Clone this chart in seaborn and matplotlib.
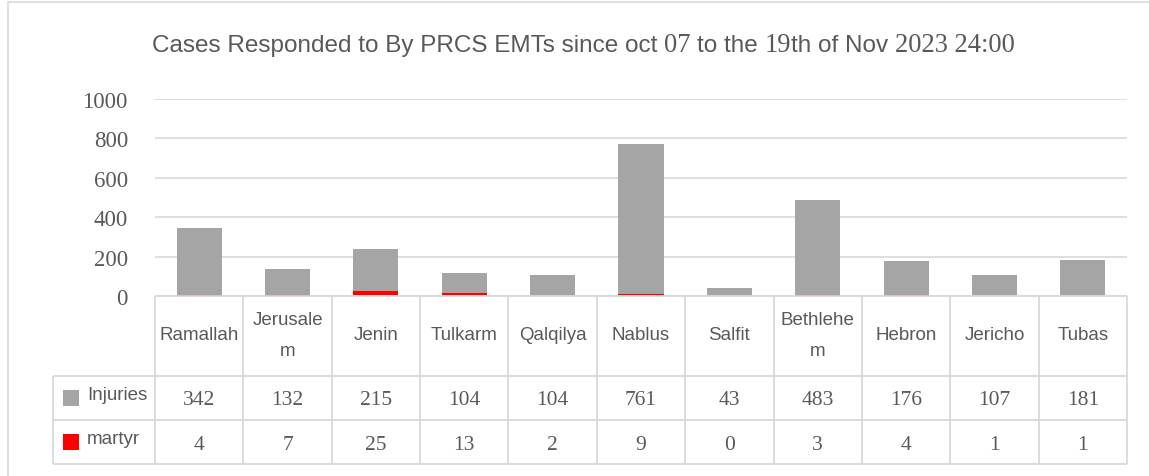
import numpy as np
import pandas as pd
import seaborn as sns
import matplotlib.pyplot as plt
from matplotlib.patches import Rectangle
from matplotlib.transforms import blended_transform_factory

# dados do grafico
cities = ['Ramallah', 'Jerusalem', 'Jenin', 'Tulkarm', 'Qalqilya', 'Nablus',
          'Salfit', 'Bethlehem', 'Hebron', 'Jericho', 'Tubas']
header_labels = ['Ramallah', 'Jerusale\nm', 'Jenin', 'Tulkarm', 'Qalqilya', 'Nablus',
                 'Salfit', 'Bethlehe\nm', 'Hebron', 'Jericho', 'Tubas']
injuries = [342, 132, 215, 104, 104, 761, 43, 483, 176, 107, 181]
martyr = [4, 7, 25, 13, 2, 9, 0, 3, 4, 1, 1]
series_names = ['Injuries', 'martyr']
y_ticks = [0, 200, 400, 600, 800, 1000]

GRAY = '#A5A5A5'
RED = '#FF0000'
GRID = '#D9D9D9'
TXT = '#595959'
SANS = 'Liberation Sans'
SERIF = 'Liberation Serif'

W, H = 1149, 477

df = pd.DataFrame({'city': cities, 'injuries': injuries, 'martyr': martyr})
df['total'] = df['injuries'] + df['martyr']

sns.set_style('white')
fig = plt.figure(figsize=(W / 100, H / 100), dpi=100)
ax = fig.add_axes([155 / W, 1 - 297 / H, 972 / W, 197 / H])


def fy(p):
    return 1 - p / H


# barras empilhadas: total em cinza, martyr em vermelho por cima
sns.barplot(data=df, x='city', y='total', color=GRAY, saturation=1, width=0.51,
            linewidth=0, ax=ax)
sns.barplot(data=df, x='city', y='martyr', color=RED, saturation=1, width=0.51,
            linewidth=0, ax=ax)

ax.set_xlim(-0.5, 10.5)
ax.set_ylim(0, 1000)
ax.set_xticks([])
ax.set_yticks(y_ticks, labels=[str(v) for v in y_ticks], fontfamily=SERIF)
ax.tick_params(axis='y', length=0, pad=19.5, labelsize=16.5, labelcolor=TXT)
ax.set_xlabel('')
ax.set_ylabel('')
ax.yaxis.grid(True, color=GRID, lw=1.2)
ax.set_axisbelow(True)
for s in ax.spines.values():
    s.set_visible(False)

# tabela de dados
trans = blended_transform_factory(ax.transData, fig.transFigure)
lkw = dict(color=GRID, lw=1.3, clip_on=False, solid_capstyle='butt')
n = len(cities)
for i in range(n + 1):
    ax.plot([i - 0.5, i - 0.5], [fy(297), fy(465)], transform=trans, **lkw)
ax.plot([-0.5, n - 0.5], [fy(297), fy(297)], transform=trans, **lkw)
x_left = ax.transData.inverted().transform((53, 0))[0]
for yp in [377, 421, 465]:
    ax.plot([x_left, n - 0.5], [fy(yp), fy(yp)], transform=trans, **lkw)
ax.plot([x_left, x_left], [fy(377), fy(465)], transform=trans, **lkw)

for i, lab in enumerate(header_labels):
    ax.text(i, fy(336), lab, transform=trans, ha='center', va='center',
            fontsize=13.5, family=SANS, color=TXT, linespacing=2.15)
    ax.text(i, fy(401), str(injuries[i]), transform=trans, ha='center', va='center',
            fontsize=15.5, family=SERIF, color=TXT)
    ax.text(i, fy(445), str(martyr[i]), transform=trans, ha='center', va='center',
            fontsize=15.5, family=SERIF, color=TXT)

for name, col, yc in zip(series_names, [GRAY, RED], [399, 443]):
    fig.add_artist(Rectangle((63 / W, fy(yc + 8)), 16 / W, 16 / H,
                             transform=fig.transFigure, color=col, lw=0))
    fig.text(87 / W, fy(yc - 3), name, ha='left', va='center',
             fontsize=13.5, family=SANS, color=TXT)

# borda da area do grafico
fig.add_artist(Rectangle((8 / W, -0.1), 1.2, fy(3) + 0.1, transform=fig.transFigure,
                         fill=False, edgecolor=GRID, lw=1.2))

# titulo com fontes misturadas
pieces = [('Cases Responded to By PRCS EMTs since oct', SANS, True),
          ('07', SERIF, True),
          ('to the', SANS, True),
          ('19', SERIF, False),
          ('th of Nov', SANS, True),
          ('2023 24:00', SERIF, False)]
tsize = {SANS: 17.5, SERIF: 19.1}
renderer = fig.canvas.get_renderer()


def width(s, fam):
    t = fig.text(0, 0, s, fontsize=tsize[fam], family=fam)
    w = t.get_window_extent(renderer).width
    t.remove()
    return w


texts, widths = [], []
for s, fam, gap in pieces:
    t = fig.text(0, fy(52), s, fontsize=tsize[fam], family=fam, color=TXT,
                 ha='left', va='baseline')
    w = t.get_window_extent(renderer).width
    if gap:
        w += width('a a', SANS) - width('aa', SANS)
    texts.append(t)
    widths.append(w)
x = 583.5 - sum(widths) / 2
for t, w in zip(texts, widths):
    t.set_x(x / W)
    x += w

fig.savefig('out.png', dpi=100)
